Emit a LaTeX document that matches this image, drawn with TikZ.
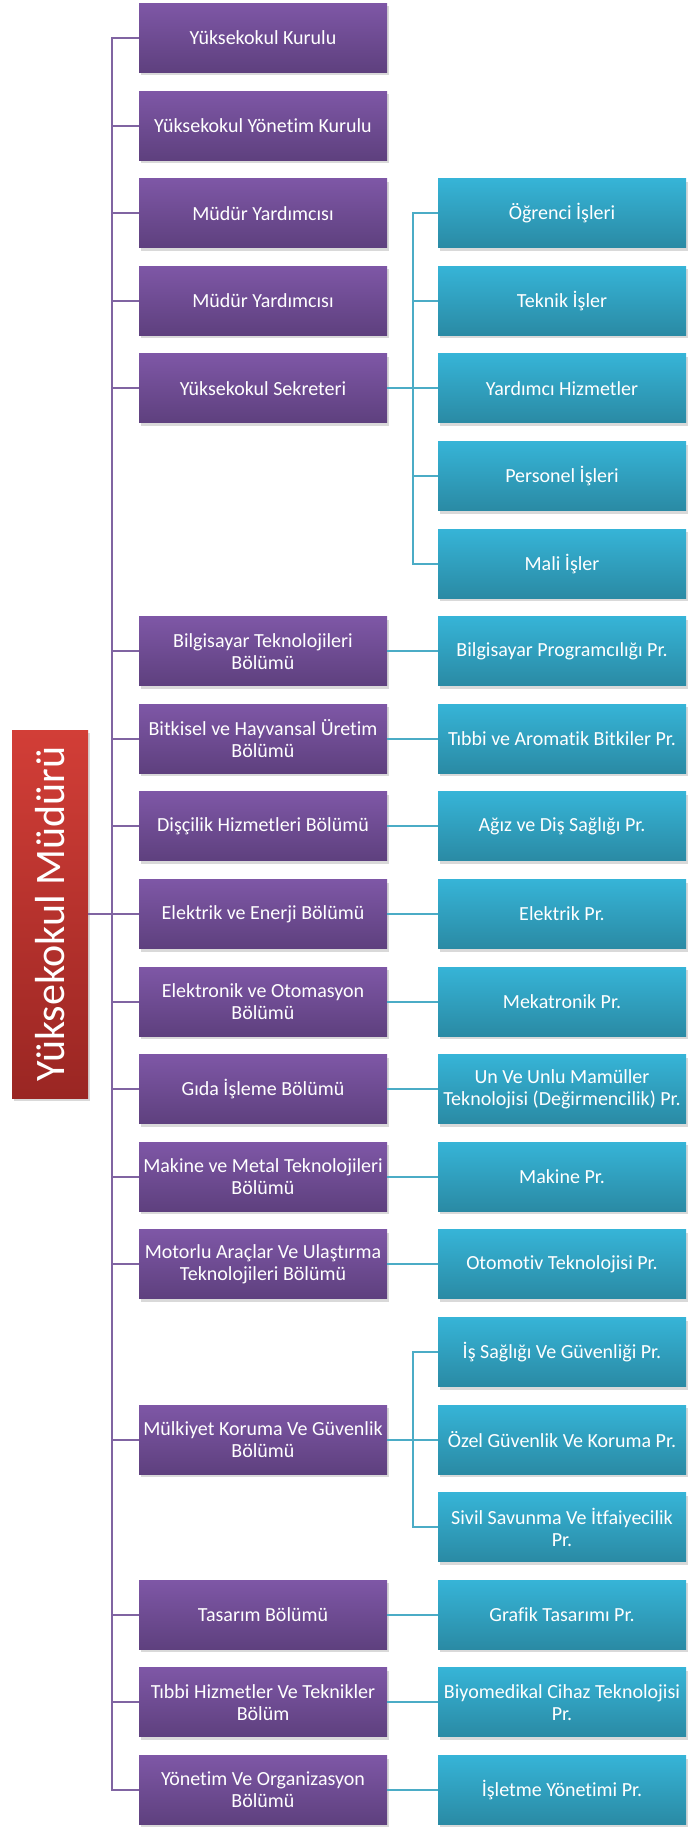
\documentclass[tikz,border=0pt]{standalone}
\usepackage{fontspec}
\setmainfont{Carlito}[Ligatures=NoCommon]
\usetikzlibrary{shadows}
\definecolor{purT}{HTML}{7E57A6}
\definecolor{purB}{HTML}{5E407E}
\definecolor{tealT}{HTML}{36B4D7}
\definecolor{tealB}{HTML}{2A8AA4}
\definecolor{redT}{HTML}{D23E37}
\definecolor{redB}{HTML}{9A2623}
\definecolor{pline}{HTML}{8064A2}
\definecolor{tline}{HTML}{4BACC6}
\begin{document}
\begin{tikzpicture}[x=1pt,y=-1pt,
  boxbase/.style={minimum width=248pt, minimum height=69pt, inner sep=0pt, align=center,
    text=white, font=\fontsize{20}{22}\selectfont,
    drop shadow={opacity=0.3, shadow xshift=1.5pt, shadow yshift=-3pt}},
  pbox/.style={boxbase, top color=purT, bottom color=purB},
  tbox/.style={boxbase, top color=tealT, bottom color=tealB},
  pcon/.style={draw=pline, line width=2pt},
  tcon/.style={draw=tline, line width=2pt}]
\useasboundingbox (0,0) rectangle (688,1827);
\def\R#1{{38+87.6*#1}}
% red box
\node[minimum width=76pt, minimum height=368pt, inner sep=0pt, top color=redT, bottom color=redB,
  drop shadow={opacity=0.3, shadow xshift=1.5pt, shadow yshift=-3pt}] (red) at (50,\R{10}) {};
\node[rotate=90, text=white, font=\fontsize{42}{48}\selectfont] (redtxt) at (red.center) {Yüksekokul Müdürü};
% purple boxes
\node[pbox] (p0) at (263,\R{0}) {Yüksekokul Kurulu};
\node[pbox] (p1) at (263,\R{1}) {Yüksekokul Yönetim Kurulu};
\node[pbox] (p2) at (263,\R{2}) {Müdür Yardımcısı};
\node[pbox] (p3) at (263,\R{3}) {Müdür Yardımcısı};
\node[pbox] (p4) at (263,\R{4}) {Yüksekokul Sekreteri};
\node[pbox] (p7) at (263,\R{7}) {Bilgisayar Teknolojileri\\Bölümü};
\node[pbox] (p8) at (263,\R{8}) {Bitkisel ve Hayvansal Üretim\\Bölümü};
\node[pbox] (p9) at (263,\R{9}) {Dişçilik Hizmetleri Bölümü};
\node[pbox] (p10) at (263,\R{10}) {Elektrik ve Enerji Bölümü};
\node[pbox] (p11) at (263,\R{11}) {Elektronik ve Otomasyon\\Bölümü};
\node[pbox] (p12) at (263,\R{12}) {Gıda İşleme Bölümü};
\node[pbox] (p13) at (263,\R{13}) {Makine ve Metal Teknolojileri\\Bölümü};
\node[pbox] (p14) at (263,\R{14}) {Motorlu Araçlar Ve Ulaştırma\\Teknolojileri Bölümü};
\node[pbox] (p16) at (263,\R{16}) {Mülkiyet Koruma Ve Güvenlik\\Bölümü};
\node[pbox] (p18) at (263,\R{18}) {Tasarım Bölümü};
\node[pbox] (p19) at (263,\R{19}) {Tıbbi Hizmetler Ve Teknikler\\Bölüm};
\node[pbox] (p20) at (263,\R{20}) {Yönetim Ve Organizasyon\\Bölümü};
% teal boxes
\node[tbox] (t2) at (562,\R{2}) {Öğrenci İşleri};
\node[tbox] (t3) at (562,\R{3}) {Teknik İşler};
\node[tbox] (t4) at (562,\R{4}) {Yardımcı Hizmetler};
\node[tbox] (t5) at (562,\R{5}) {Personel İşleri};
\node[tbox] (t6) at (562,\R{6}) {Mali İşler};
\node[tbox] (t7) at (562,\R{7}) {Bilgisayar Programcılığı Pr.};
\node[tbox] (t8) at (562,\R{8}) {Tıbbi ve Aromatik Bitkiler Pr.};
\node[tbox] (t9) at (562,\R{9}) {Ağız ve Diş Sağlığı Pr.};
\node[tbox] (t10) at (562,\R{10}) {Elektrik Pr.};
\node[tbox] (t11) at (562,\R{11}) {Mekatronik Pr.};
\node[tbox] (t12) at (562,\R{12}) {Un Ve Unlu Mamüller\\Teknolojisi (Değirmencilik) Pr.};
\node[tbox] (t13) at (562,\R{13}) {Makine Pr.};
\node[tbox] (t14) at (562,\R{14}) {Otomotiv Teknolojisi Pr.};
\node[tbox] (t15) at (562,\R{15}) {İş Sağlığı Ve Güvenliği Pr.};
\node[tbox] (t16) at (562,\R{16}) {Özel Güvenlik Ve Koruma Pr.};
\node[tbox] (t17) at (562,\R{17}) {Sivil Savunma Ve İtfaiyecilik\\Pr.};
\node[tbox] (t18) at (562,\R{18}) {Grafik Tasarımı Pr.};
\node[tbox] (t19) at (562,\R{19}) {Biyomedikal Cihaz Teknolojisi\\Pr.};
\node[tbox] (t20) at (562,\R{20}) {İşletme Yönetimi Pr.};
% purple connectors
\draw[pcon] (p0.west) -- ++(-27,0) |- (p20.west);
\foreach \i in {1,2,3,4,7,8,9,10,11,12,13,14,16,18,19}{
  \draw[pcon] (p\i.west) -- ++(-27,0);
}
\draw[pcon] (red.east) -- (p10.west);
% teal connectors
\draw[tcon] (p4.east) -- (t4.west);
\draw[tcon] (t2.west) -- ++(-25,0) |- (t6.west);
\foreach \i in {3,5}{\draw[tcon] (t\i.west) -- ++(-25,0);}
\draw[tcon] (p16.east) -- (t16.west);
\draw[tcon] (t15.west) -- ++(-25,0) |- (t17.west);
\foreach \i in {7,8,9,10,11,12,13,14,18,19,20}{
  \draw[tcon] (p\i.east) -- (t\i.west);
}
\end{tikzpicture}
\end{document}
